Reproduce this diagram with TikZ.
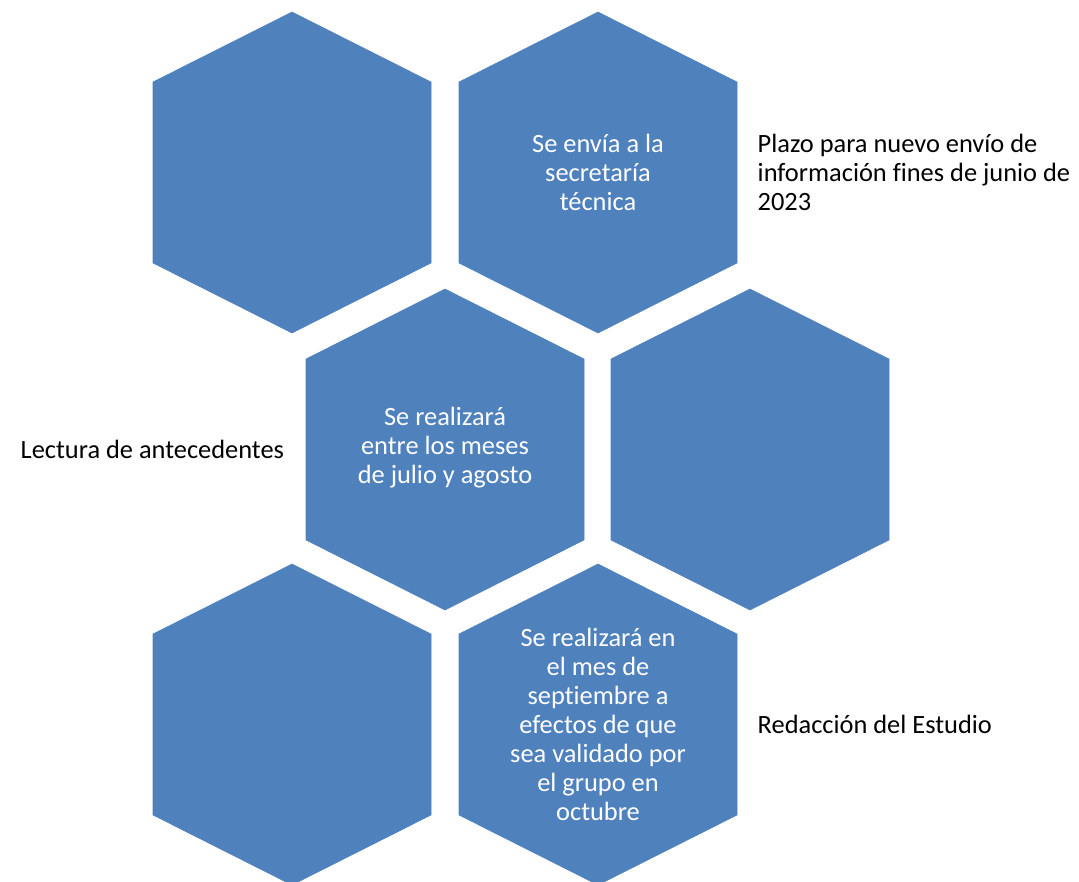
\documentclass[tikz,border=0pt]{standalone}
\usepackage{fontspec}
\setmainfont[Ligatures={NoCommon}]{Carlito}
\definecolor{hexblue}{RGB}{79,129,189}
\tikzset{
  hexa/.style={fill=hexblue, draw=hexblue, line width=0.4pt},
  intext/.style={text=white, align=center, font=\fontsize{19.8}{21.75}\selectfont},
  outtext/.style={text=black, align=left, anchor=west, font=\fontsize{19.8}{21.75}\selectfont}
}
\begin{document}
\begin{tikzpicture}[x=0.75pt, y=-0.75pt]
        \useasboundingbox (0,0) rectangle (1079,882);
        % row 1
        \filldraw[hexa] (292,12) -- ++(139,70) -- ++(0,181) -- ++(-139,70) -- ++(-139,-70) -- ++(0,-181) -- cycle;
        \filldraw[hexa] (598,12) -- ++(139,70) -- ++(0,181) -- ++(-139,70) -- ++(-139,-70) -- ++(0,-181) -- cycle;
        % row 2
        \filldraw[hexa] (445,289) -- ++(139,70) -- ++(0,181) -- ++(-139,70) -- ++(-139,-70) -- ++(0,-181) -- cycle;
        \filldraw[hexa] (750,289) -- ++(139,70) -- ++(0,181) -- ++(-139,70) -- ++(-139,-70) -- ++(0,-181) -- cycle;
        % row 3
        \filldraw[hexa] (292,564) -- ++(139,70) -- ++(0,181) -- ++(-139,70) -- ++(-139,-70) -- ++(0,-181) -- cycle;
        \filldraw[hexa] (598,564) -- ++(139,70) -- ++(0,181) -- ++(-139,70) -- ++(-139,-70) -- ++(0,-181) -- cycle;
        % texts
        \node[intext] (envio) at (598,172) {Se envía a la\\secretaría\\técnica};
        \node[outtext] (plazo) at (753,172) {Plazo para nuevo envío de\\información fines de junio de\\2023};
        \node[intext] (julio) at (445,448) {Se realizará\\entre los meses\\de julio y agosto};
        \node[outtext] (lectura) at (16,449) {Lectura de antecedentes};
        \node[intext] (sept) at (598,724) {Se realizará en\\el mes de\\septiembre a\\efectos de que\\sea validado por\\el grupo en\\octubre};
        \node[outtext] (redaccion) at (753,724) {Redacción del Estudio};
\end{tikzpicture}
\end{document}
